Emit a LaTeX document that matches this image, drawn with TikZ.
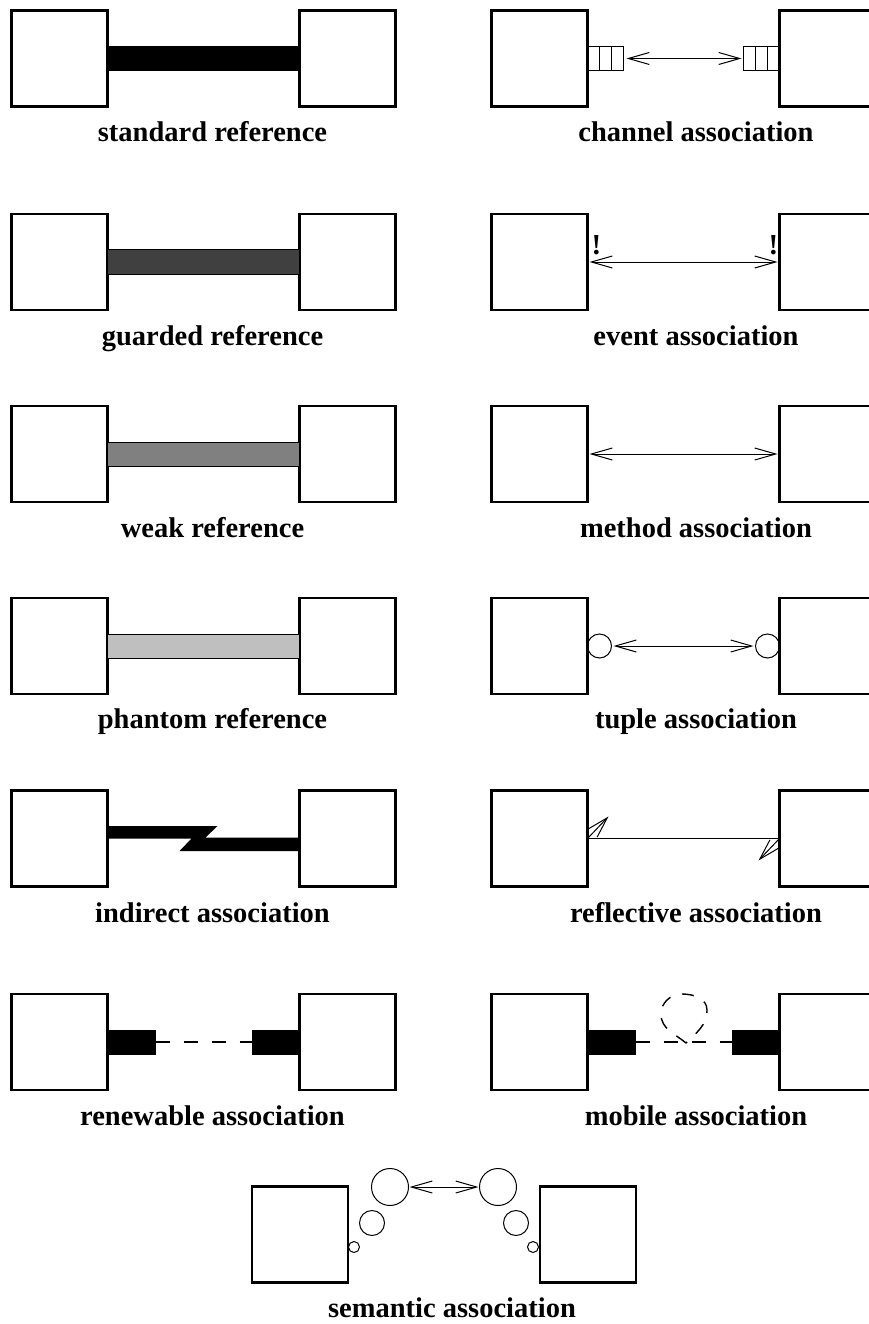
\documentclass[tikz,border=0pt]{standalone}
\usepackage{fontspec}
\setmainfont{Liberation Serif}
\usetikzlibrary{positioning, arrows.meta}
\tikzset{
  >={Straight Barb[length=21pt, width=12pt]},
  node distance=192pt,
  obj/.style={draw, line width=2.8pt, minimum size=96pt, inner sep=0pt, outer sep=0pt},
  bar/.style={draw, line width=1pt},
  stub/.style={fill, minimum width=48pt, minimum height=25pt, inner sep=0pt, outer sep=0pt},
  queue/.style={draw, line width=1pt, minimum width=36pt, minimum height=24pt, inner sep=0pt, outer sep=0pt,
    path picture={
      \draw ([xshift=-6pt]path picture bounding box.north) -- ([xshift=-6pt]path picture bounding box.south);
      \draw ([xshift=6pt]path picture bounding box.north) -- ([xshift=6pt]path picture bounding box.south);
    }},
  dot/.style={draw, circle, line width=1pt, inner sep=0pt, outer sep=0pt},
  msg/.style={line width=1pt},
  dashline/.style={line width=1.4pt, dash pattern=on 14pt off 14pt},
  lbl/.style={anchor=base, font=\bfseries\fontsize{28.5}{34}\selectfont},
  bang/.style={font=\bfseries\fontsize{29}{32}\selectfont, inner sep=0pt},
}

\begin{document}
\begin{tikzpicture}[x=1pt, y=-1pt]
        \useasboundingbox (0,0) rectangle (869,1324);

        % objects, left column
        \node[obj] (a1) at (59.5,58.5) {};
        \node[obj, right=of a1] (b1) {};
        \node[obj] (a2) at (59.5,262) {};
        \node[obj, right=of a2] (b2) {};
        \node[obj] (a3) at (59.5,454) {};
        \node[obj, right=of a3] (b3) {};
        \node[obj] (a4) at (59.5,646) {};
        \node[obj, right=of a4] (b4) {};
        \node[obj] (a5) at (59.5,838.5) {};
        \node[obj, right=of a5] (b5) {};
        \node[obj] (a6) at (59.5,1042) {};
        \node[obj, right=of a6] (b6) {};

        % objects, right column
        \node[obj] (c1) at (539.5,58.5) {};
        \node[obj, right=of c1] (d1) {};
        \node[obj] (c2) at (539.5,262) {};
        \node[obj, right=of c2] (d2) {};
        \node[obj] (c3) at (539.5,454) {};
        \node[obj, right=of c3] (d3) {};
        \node[obj] (c4) at (539.5,646) {};
        \node[obj, right=of c4] (d4) {};
        \node[obj] (c5) at (539.5,838.5) {};
        \node[obj, right=of c5] (d5) {};
        \node[obj] (c6) at (539.5,1042) {};
        \node[obj, right=of c6] (d6) {};

        % last pair
        \node[obj] (a7) at (300,1234.5) {};
        \node[obj, right=of a7] (b7) {};

        % references
        \draw[bar, fill=black] ([yshift=12pt]a1.east) rectangle ([yshift=-12pt]b1.west);
        \draw[bar, fill=black!75] ([yshift=12pt]a2.east) rectangle ([yshift=-12pt]b2.west);
        \draw[bar, fill=black!50] ([yshift=12pt]a3.east) rectangle ([yshift=-12pt]b3.west);
        \draw[bar, fill=black!25] ([yshift=12pt]a4.east) rectangle ([yshift=-12pt]b4.west);

        % indirect
        \fill ([yshift=12.5pt]a5.east) -- ++(110,0) -- ++(-12,11.5) -- ([yshift=1pt]b5.west)
              -- ([yshift=-12.5pt]b5.west) -- ++(-120,0) -- ++(12,-12.5) -- (a5.east) -- cycle;

        % renewable
        \node[stub, right=0pt of a6] (s1) {};
        \node[stub, left=0pt of b6] (s2) {};
        \draw[dashline] (s1) -- (s2);

        % channel
        \node[queue, right=0pt of c1] (q1) {};
        \node[queue, left=0pt of d1] (q2) {};
        \draw[msg, <->, shorten <=3pt, shorten >=2pt] (q1.east) -- (q2.west);

        % event
        \draw[msg, <->, shorten <=2pt, shorten >=2pt] (c2.east) -- (d2.west);
        \node[bang] (x1) at ([shift={(9,-17)}]c2.east) {!};
        \node[bang] (x2) at ([shift={(-6,-17)}]d2.west) {!};

        % method
        \draw[msg, <->, shorten <=2pt, shorten >=2pt] (c3.east) -- (d3.west);

        % tuple
        \node[dot, minimum size=24pt, right=0pt of c4] (t1) {};
        \node[dot, minimum size=24pt, left=0pt of d4] (t2) {};
        \draw[msg, <->, shorten <=2pt, shorten >=2pt] (t1) -- (t2);

        % reflective
        \draw[msg] (c5.east) -- (d5.west);
        \draw[msg, ->] (c5.east) -- ++(21,-22);
        \draw[msg, ->] (d5.west) -- ++(-21,22);

        % mobile
        \node[stub, right=0pt of c6] (s3) {};
        \node[stub, left=0pt of d6] (s4) {};
        \draw[dashline] (s3) -- (s4);
        \draw[dashline, dash pattern=on 12pt off 12pt] (686,1043) to[out=140, in=270] (661,1014)
              to[out=90, in=180] (682,994) to[out=0, in=90] (707,1010) to[out=270, in=45] (686,1043);

        % semantic
        \node[dot, minimum size=11pt] (u1) at ([shift={(6,12.5)}]a7.east) {};
        \node[dot, minimum size=25pt] (u2) at ([shift={(24,-11.5)}]a7.east) {};
        \node[dot, minimum size=37pt] (u3) at ([shift={(42,-47.5)}]a7.east) {};
        \node[dot, minimum size=11pt] (v1) at ([shift={(-7,12.5)}]b7.west) {};
        \node[dot, minimum size=25pt] (v2) at ([shift={(-24,-11.5)}]b7.west) {};
        \node[dot, minimum size=37pt] (v3) at ([shift={(-42,-47.5)}]b7.west) {};
        \draw[msg, <->, shorten <=1pt, shorten >=1pt] (u3) -- (v3);

        % labels
        \node[lbl] (l1) at (212.5,142) {standard reference};
        \node[lbl] (l2) at (212.5,345) {guarded reference};
        \node[lbl] (l3) at (212.5,537) {weak reference};
        \node[lbl] (l4) at (212.5,728) {phantom reference};
        \node[lbl] (l5) at (212.5,922) {indirect association};
        \node[lbl] (l6) at (212.5,1125) {renewable association};
        \node[lbl] (r1) at (696,142) {channel association};
        \node[lbl] (r2) at (696,345) {event association};
        \node[lbl] (r3) at (696,537) {method association};
        \node[lbl] (r4) at (696,728) {tuple association};
        \node[lbl] (r5) at (696,922) {reflective association};
        \node[lbl] (r6) at (696,1125) {mobile association};
        \node[lbl] (l7) at (452,1317) {semantic association};
\end{tikzpicture}
\end{document}
